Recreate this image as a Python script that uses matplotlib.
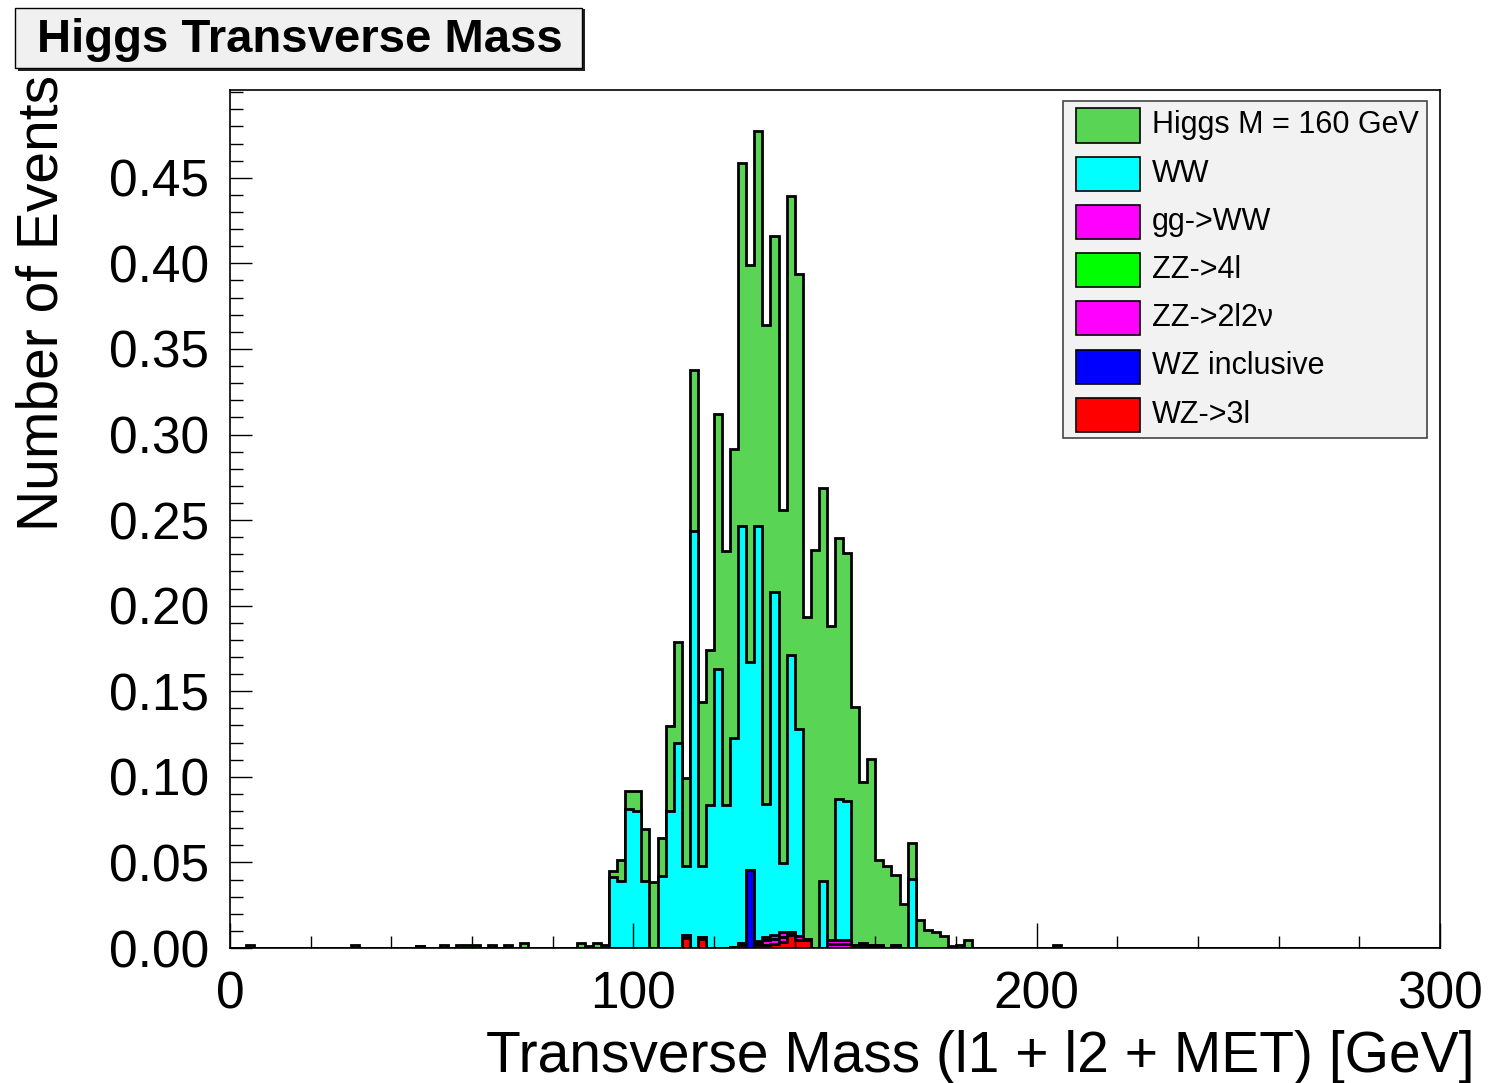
import numpy as np
import matplotlib.pyplot as plt
from matplotlib.patches import Rectangle

plt.rcParams['font.family'] = ['Liberation Sans', 'DejaVu Sans']

W, H = 1503, 1083

# 2 GeV bins over 0-300 GeV; dense region starts at 88 GeV
bin_width = 2
mass_start = 88

higgs = [0.001, 0.003, 0.0015, 0.0037, 0.0127, 0.0103, 0.0118, 0.0308, 0.0383, 0.022,
         0.0495, 0.0585, 0.0515, 0.0938, 0.096, 0.0908, 0.1488, 0.1484, 0.1688, 0.2121,
         0.2316, 0.2307, 0.2795, 0.2079, 0.2065, 0.2681, 0.2661, 0.188, 0.2328, 0.2292,
         0.1836, 0.1523, 0.1447, 0.1387, 0.0945, 0.1085, 0.0498, 0.0482, 0.0413, 0.0258,
         0.0214, 0.0162, 0.0105, 0.0092, 0.0068, 0.0012, 0.0018, 0.0048, 0.0]
ww = [0, 0, 0, 0.0415, 0.039, 0.0815, 0.080, 0.039, 0, 0.042,
      0.080, 0.120, 0.0405, 0.2437, 0.0415, 0.0834, 0.163, 0.0834, 0.1219, 0.2436,
      0.1217, 0.2424, 0.0778, 0.2004, 0.0405, 0.1619, 0.1209, 0, 0, 0.0393,
      0, 0.0825, 0.0811, 0, 0, 0, 0, 0, 0, 0,
      0.0401, 0, 0, 0, 0, 0, 0, 0, 0]

# scattered Higgs entries outside the dense region
higgs_tail_bins = [4, 30, 52, 56, 58, 60, 64, 68, 72, 86, 204]
higgs_tail_vals = [0.0015, 0.0015, 0.0015, 0.002, 0.002, 0.0015, 0.0015, 0.0015, 0.003, 0.003, 0.0015]

# small backgrounds, lower bin edge -> value
ggww_bins = [130, 132, 134, 136, 148, 150, 152, 154, 156, 158, 160]
ggww_vals = [0.0012, 0.002, 0.0025, 0.0027, 0.0022, 0.0022, 0.0022, 0.001, 0.0012, 0.0008, 0.0008]
zz4l_bins = [124, 126]
zz4l_vals = [0.0008, 0.001]
zz2l2v_bins = [112, 116, 130, 132, 134, 136, 138, 140, 142, 148, 150, 152, 154, 156, 158, 160]
zz2l2v_vals = [0.0015, 0.0015, 0.001, 0.0025, 0.0028, 0.003, 0.0019, 0.0025, 0.001,
               0.0025, 0.0025, 0.0025, 0.001, 0.0015, 0.001, 0.001]
wzincl_bins = [46, 128, 164]
wzincl_vals = [0.001, 0.0455, 0.0015]
wz3l_bins = [112, 116, 126, 130, 132, 134, 136, 138, 140, 142]
wz3l_vals = [0.006, 0.005, 0.002, 0.002, 0.002, 0.0025, 0.0035, 0.0076, 0.0045, 0.0045]

labels = ['Higgs M = 160 GeV', 'WW', 'gg->WW', 'ZZ->4l', 'ZZ->2l2\u03bd', 'WZ inclusive', 'WZ->3l']
colors = ['#59d454', '#00ffff', '#ff00ff', '#00ff00', '#ff00ff', '#0000ff', '#ff0000']

edges = np.arange(0, 300 + bin_width, bin_width)
nbins = len(edges) - 1


def sparse(bins, vals):
    h = np.zeros(nbins)
    h[np.array(bins) // bin_width] = vals
    return h


i0 = mass_start // bin_width
h_higgs = sparse(higgs_tail_bins, higgs_tail_vals)
h_higgs[i0:i0 + len(higgs)] = higgs
h_ww = np.zeros(nbins)
h_ww[i0:i0 + len(ww)] = ww

# stacked from the bottom: WZ->3l first, Higgs last
stack = [sparse(wz3l_bins, wz3l_vals), sparse(wzincl_bins, wzincl_vals),
         sparse(zz2l2v_bins, zz2l2v_vals), sparse(zz4l_bins, zz4l_vals),
         sparse(ggww_bins, ggww_vals), h_ww, h_higgs]
stack_colors = colors[::-1]
cum = np.cumsum(stack, axis=0)

fig = plt.figure(figsize=(W / 100, H / 100), dpi=100)
ax = fig.add_axes([230 / W, 1 - 948 / H, (1440 - 230) / W, (948 - 90) / H])

for k in range(len(stack) - 1, -1, -1):
    ax.stairs(cum[k], edges, fill=True, facecolor=stack_colors[k],
              edgecolor='black', linewidth=2.0)

ax.set_xlim(0, 300)
ax.set_ylim(0, 0.5013)
ax.set_xticks([0, 100, 200, 300])
ax.set_xticks(np.arange(0, 301, 20), minor=True)
ax.set_yticks(np.arange(0, 0.451, 0.05))
ax.set_yticks(np.arange(0, 0.501, 0.01), minor=True)
ax.set_yticklabels(['%.2f' % v for v in np.arange(0, 0.451, 0.05)])
ax.tick_params(which='both', direction='in', top=False, right=False, width=1, labelsize=37)
ax.tick_params(axis='x', which='major', length=18, pad=16)
ax.tick_params(axis='x', which='minor', length=9)
ax.tick_params(axis='y', which='major', length=16, pad=15)
ax.tick_params(axis='y', which='minor', length=9)
for s in ax.spines.values():
    s.set_linewidth(1.2)

fig.text(1475 / W, 1 - 1072 / H, 'Transverse Mass (l1 + l2 + MET) [GeV]',
         ha='right', va='baseline', fontsize=41)
fig.text(70 / W, 1 - 75 / H, 'Number of Events', rotation=90,
         ha='right', va='top', fontsize=41)

# title box with shadow
fig.patches.append(Rectangle((18 / W, 1 - 71 / H), 567 / W, 62 / H,
                             transform=fig.transFigure, facecolor='#222222',
                             edgecolor='none'))
fig.patches.append(Rectangle((15 / W, 1 - 68 / H), 567 / W, 60 / H,
                             transform=fig.transFigure, facecolor='#f0f0f0',
                             edgecolor='black', linewidth=1))
fig.text(300 / W, 1 - 40 / H, 'Higgs Transverse Mass', ha='center', va='center',
         fontsize=34, fontweight='bold')

# legend
fig.patches.append(Rectangle((1063 / W, 1 - 438 / H), 364 / W, 337 / H,
                             transform=fig.transFigure, facecolor='#f2f2f2',
                             edgecolor='#444444', linewidth=1.2))
for j, (lab, col) in enumerate(zip(labels, colors)):
    yc = 125.5 + j * 48.2
    fig.patches.append(Rectangle((1076 / W, 1 - (yc + 17) / H), 64 / W, 34 / H,
                                 transform=fig.transFigure, facecolor=col,
                                 edgecolor='black', linewidth=1.2))
    fig.text(1152 / W, 1 - yc / H, lab, ha='left', va='center', fontsize=22)

fig.savefig('out.png', dpi=100)
